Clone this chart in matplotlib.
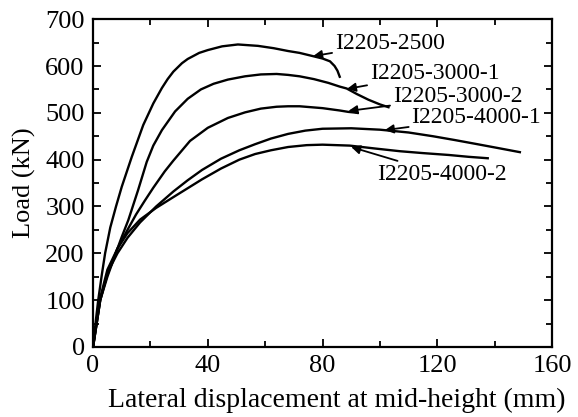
import matplotlib.pyplot as plt
from matplotlib.ticker import MultipleLocator

plt.rcParams['font.family'] = ['Liberation Serif', 'DejaVu Serif']

# curves: displacement (mm), load (kN)
x_2500 = [0, 1, 1.8, 3, 4.2, 6, 8, 10, 13.5, 17.5, 21, 24, 26, 28, 31, 33, 37, 40, 45,
          50.5, 57.5, 63, 68, 72, 76.7, 80, 82.6, 84.2, 85.2, 86]
y_2500 = [0, 58, 100, 152, 200, 255, 300, 342, 406, 474, 520, 553, 572, 588, 606, 615,
          628, 634, 642, 646, 643, 638, 632, 628, 621, 616, 610, 600, 590, 577]

x_3000_1 = [0, 1, 2.5, 5, 8.2, 10, 12.3, 15.7, 18.7, 21, 24, 28.6, 33, 37.6, 42, 47, 53,
            58.5, 64, 68, 72, 77, 82, 86, 88.4, 92, 96, 100, 103]
y_3000_1 = [0, 40, 100, 150, 205, 235, 271, 335, 395, 430, 463, 503, 530, 550, 562, 571,
            578, 582, 583, 581, 578, 572, 564, 556, 552, 540, 528, 518, 512]

x_3000_2 = [0, 1, 2.5, 5, 8.5, 12, 15, 18, 21, 25, 28, 33.8, 40, 47, 53, 58.5, 64,
            68, 72, 80, 86, 89, 92.3]
y_3000_2 = [0, 40, 100, 155, 210, 250, 283, 312, 340, 375, 398, 440, 468, 489, 501,
            509, 513, 514, 514, 510, 505, 502, 500]

x_4000_1 = [0, 1, 2.5, 5, 8.5, 12, 16.4, 22, 28, 33, 38, 44.6, 51, 56.5, 62, 68, 74, 80,
            90, 100, 110, 118.5, 126, 134, 141, 148.8]
y_4000_1 = [0, 40, 100, 158, 200, 233, 266, 300, 332, 356, 378, 402, 420, 433, 445, 455,
            462, 466, 467, 464, 458, 450, 442, 433, 425, 416]

x_4000_2 = [0, 1, 2.5, 5, 8.5, 12, 16.4, 22, 28, 33, 38, 44.6, 51, 56.5, 62, 68, 74.5, 80,
            89.5, 98, 107, 115, 124, 131, 137.6]
y_4000_2 = [0, 45, 105, 165, 210, 243, 272, 297, 320, 339, 358, 381, 400, 412, 420, 427,
            431, 432, 430, 424, 418, 414, 410, 406, 403]

labels = ['I2205-2500', 'I2205-3000-1', 'I2205-3000-2', 'I2205-4000-1', 'I2205-4000-2']
arrow_tips = [(76.7, 621), (88.5, 551), (89, 504), (101.7, 463), (90, 427)]
text_pos = [(84.3, 649), (96.5, 585), (104.5, 534), (111, 489), (99, 369)]

fig = plt.figure(figsize=(5.78, 4.17), dpi=100)
ax = fig.add_axes([0.161, 0.168, 0.794, 0.786])

for xs, ys in [(x_2500, y_2500), (x_3000_1, y_3000_1), (x_3000_2, y_3000_2),
               (x_4000_1, y_4000_1), (x_4000_2, y_4000_2)]:
    ax.plot(xs, ys, color='black', lw=1.7)

for lab, tip, tp in zip(labels, arrow_tips, text_pos):
    ax.annotate(lab, xy=tip, xytext=tp, fontsize=17, va='center', ha='left',
                arrowprops=dict(arrowstyle='-|>', color='black', lw=1.3,
                                mutation_scale=13, shrinkA=0, shrinkB=0))

ax.set_xlim(0, 160)
ax.set_ylim(0, 700)
ax.xaxis.set_major_locator(MultipleLocator(40))
ax.xaxis.set_minor_locator(MultipleLocator(20))
ax.yaxis.set_major_locator(MultipleLocator(100))
ax.yaxis.set_minor_locator(MultipleLocator(50))
ax.tick_params(which='both', direction='in', top=True, right=True, width=1.3,
               labelsize=19)
ax.tick_params(axis='x', pad=6)
ax.tick_params(axis='y', pad=6)
ax.tick_params(which='major', length=6)
ax.tick_params(which='minor', length=4)
for s in ax.spines.values():
    s.set_linewidth(1.6)

ax.set_xlabel('Lateral displacement at mid-height (mm)', fontsize=20)
ax.set_ylabel('Load (kN)', fontsize=19)
ax.xaxis.set_label_coords(0.53, -0.125)
ax.yaxis.set_label_coords(-0.125, 0.5)

fig.savefig('out.png', dpi=100)
